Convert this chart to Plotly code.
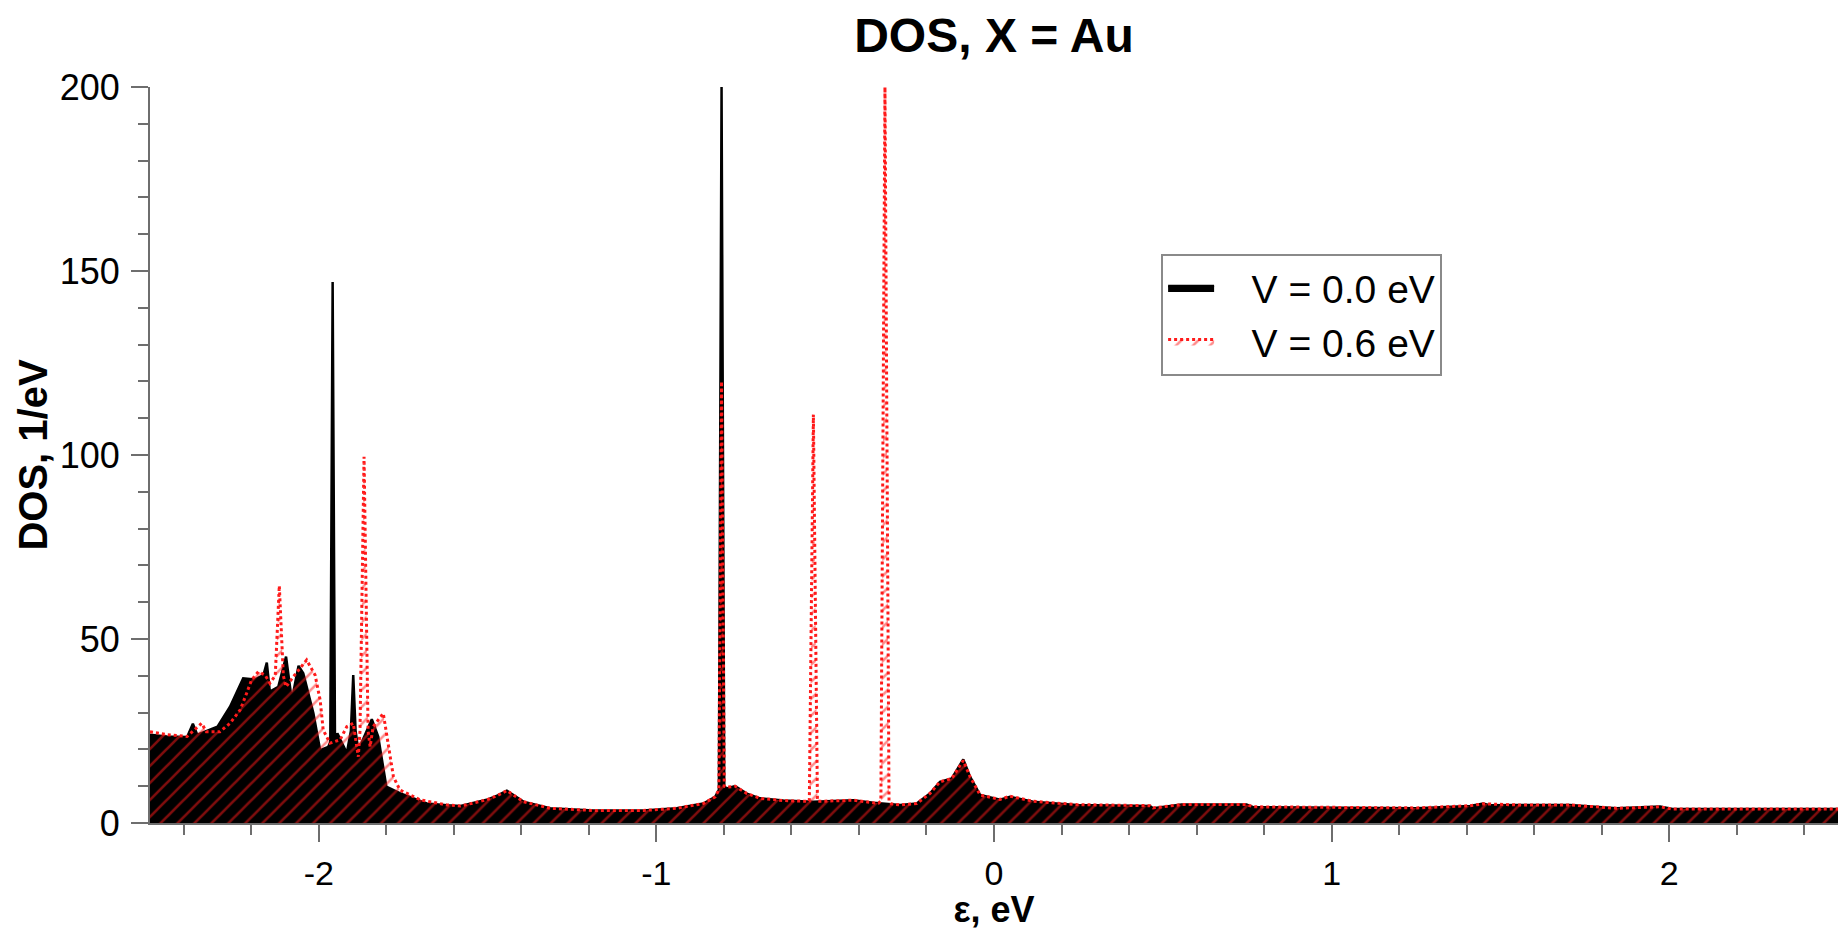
import plotly.graph_objects as go

# V = 0.0 eV (black, filled)
x_v0 = [-2.50, -2.45, -2.39, -2.373, -2.36, -2.30, -2.263, -2.224, -2.189, -2.164,
        -2.154, -2.145, -2.12, -2.097, -2.08, -2.06, -2.046, -2.016, -1.996, -1.972,
        -1.966, -1.959, -1.952, -1.945, -1.917, -1.905, -1.898, -1.891, -1.883, -1.843,
        -1.824, -1.80, -1.76, -1.68, -1.62, -1.58, -1.503, -1.47, -1.443, -1.42,
        -1.394, -1.315, -1.187, -1.039, -0.94, -0.861, -0.826, -0.815, -0.807, -0.799,
        -0.792, -0.767, -0.732, -0.693, -0.624, -0.535, -0.417, -0.357, -0.278, -0.229,
        -0.19, -0.16, -0.125, -0.091, -0.071, -0.041, 0.018, 0.047, 0.116, 0.245,
        0.462, 0.471, 0.556, 0.748, 0.768, 1.252, 1.41, 1.449, 1.47, 1.558,
        1.706, 1.844, 1.973, 2.01, 2.50]
y_v0 = [24.0, 23.5, 23.4, 27.0, 24.0, 26.2, 31.6, 39.3, 39.0, 40.2,
        43.6, 35.7, 37.0, 45.2, 33.4, 42.7, 40.7, 29.8, 19.8, 20.7,
        22.0, 147.0, 22.0, 24.4, 19.0, 25.0, 40.2, 25.0, 19.8, 28.2,
        23.5, 9.9, 8.1, 5.3, 4.8, 4.6, 6.3, 7.5, 8.8, 7.5,
        5.8, 4.0, 3.4, 3.4, 4.0, 5.3, 7.1, 9.0, 200.0, 10.0,
        9.4, 10.0, 8.0, 6.7, 6.1, 5.8, 6.2, 5.5, 4.9, 5.3,
        8.0, 11.2, 12.1, 17.3, 12.6, 7.6, 6.3, 7.1, 5.8, 4.9,
        4.6, 4.0, 5.0, 5.0, 4.3, 4.0, 4.6, 5.3, 4.8, 4.9,
        4.9, 4.0, 4.5, 3.8, 3.8]

# V = 0.6 eV (red, dotted outline, hatched)
x_v6 = [-2.50, -2.45, -2.39, -2.347, -2.333, -2.293, -2.263, -2.233, -2.214, -2.199,
        -2.179, -2.159, -2.145, -2.129, -2.117, -2.105, -2.097, -2.075, -2.036, -2.011,
        -1.996, -1.987, -1.967, -1.937, -1.917, -1.898, -1.883, -1.878, -1.866, -1.854,
        -1.848, -1.839, -1.809, -1.794, -1.779, -1.76, -1.70, -1.62, -1.58, -1.503,
        -1.47, -1.443, -1.42, -1.394, -1.315, -1.187, -1.039, -0.94, -0.861, -0.826,
        -0.815, -0.807, -0.799, -0.792, -0.767, -0.732, -0.693, -0.624, -0.553, -0.547,
        -0.535, -0.523, -0.517, -0.417, -0.357, -0.342, -0.335, -0.323, -0.311, -0.304,
        -0.278, -0.229, -0.19, -0.16, -0.125, -0.091, -0.071, -0.041, 0.018, 0.047,
        0.116, 0.245, 0.462, 0.471, 0.556, 0.748, 0.768, 1.252, 1.41, 1.449,
        1.558, 1.706, 1.844, 1.973, 2.01, 2.50]
y_v6 = [24.8, 24.0, 23.5, 27.1, 24.8, 24.8, 27.1, 30.7, 35.2, 38.9,
        41.1, 40.2, 38.0, 40.0, 64.5, 40.0, 37.0, 39.8, 44.3, 40.2,
        33.4, 25.3, 21.7, 22.6, 26.2, 27.1, 18.0, 25.0, 99.5, 25.0,
        20.7, 26.2, 29.8, 20.7, 12.6, 9.0, 6.3, 4.9, 4.6, 6.3,
        7.5, 8.8, 7.5, 5.8, 4.0, 3.4, 3.4, 4.0, 5.3, 7.1,
        9.0, 120.0, 10.0, 9.7, 10.0, 8.0, 6.7, 6.1, 5.9, 6.0,
        111.0, 6.0, 5.9, 6.2, 5.5, 5.4, 6.0, 200.0, 6.0, 5.2,
        4.9, 5.3, 8.0, 11.2, 12.1, 17.0, 12.6, 7.6, 6.4, 7.3,
        5.9, 5.0, 4.7, 4.1, 5.0, 5.0, 4.4, 4.1, 4.7, 5.2,
        4.9, 4.9, 4.0, 4.4, 3.8, 3.8]

names = ["V = 0.0 eV", "V = 0.6 eV"]
x_ticks = [-2, -1, 0, 1, 2]
y_ticks = [0, 50, 100, 150, 200]

FONT = "Liberation Sans, Arial, sans-serif"
AXIS_GRAY = "#6e6e6e"
RED = "#ff1a1a"
PAD = "\u00a0\u00a0\u00a0"  # gap between legend swatch and label

fig = go.Figure()
fig.add_trace(go.Scatter(
    x=x_v0, y=y_v0, name=PAD + names[0], mode="lines",
    line=dict(color="black", width=2.5),
    fill="tozeroy", fillcolor="black",
))
fig.add_trace(go.Scatter(
    x=x_v6, y=y_v6, name=PAD + names[1], mode="lines",
    line=dict(color=RED, width=3, dash="dot"),
    fill="tozeroy", fillcolor="rgba(0,0,0,0)",
    fillpattern=dict(shape="/", fgcolor=RED, bgcolor="rgba(0,0,0,0)",
                     size=12, solidity=0.22),
))

fig.update_layout(
    width=1838, height=930,
    margin=dict(l=150, r=0, t=87, b=107),
    paper_bgcolor="white", plot_bgcolor="white",
    font=dict(family=FONT, color="black", size=36),
    title=dict(text="<b>DOS, X = Au</b>", x=0.5, xref="paper", xanchor="center",
               y=1 - 35 / 930, yref="container", yanchor="middle",
               font=dict(family=FONT, size=48, color="black")),
    showlegend=True,
    legend=dict(x=0.599, y=0.773, xanchor="left", yanchor="top",
                bgcolor="white", bordercolor="#8a8a8a", borderwidth=2,
                itemwidth=46, tracegroupgap=0,
                font=dict(family=FONT, size=39, color="black")),
)
fig.update_xaxes(
    range=[-2.5, 2.5], tickvals=x_ticks, ticktext=[str(v) for v in x_ticks],
    showgrid=False, zeroline=False,
    showline=True, linecolor=AXIS_GRAY, linewidth=2,
    ticks="outside", ticklen=17, tickwidth=2, tickcolor=AXIS_GRAY,
    ticklabelstandoff=2,
    minor=dict(ticks="outside", ticklen=10, tickwidth=1.5, tickcolor=AXIS_GRAY, dtick=0.2, showgrid=False),
    tickfont=dict(family=FONT, size=34, color="black"),
    title=dict(text="<b>ε, eV</b>", font=dict(family=FONT, size=36, color="black"), standoff=8),
)
fig.update_yaxes(
    range=[0, 200], tickvals=y_ticks, ticktext=[str(v) for v in y_ticks],
    showgrid=False, zeroline=False,
    showline=True, linecolor=AXIS_GRAY, linewidth=2,
    ticks="outside", ticklen=17, tickwidth=2, tickcolor=AXIS_GRAY,
    ticklabelstandoff=4,
    minor=dict(ticks="outside", ticklen=10, tickwidth=1.5, tickcolor=AXIS_GRAY, dtick=10, showgrid=False),
    tickfont=dict(family=FONT, size=36, color="black"),
    title=dict(text="<b>DOS, 1/eV</b>", font=dict(family=FONT, size=40, color="black"), standoff=0),
)

fig.write_html("out.html")
